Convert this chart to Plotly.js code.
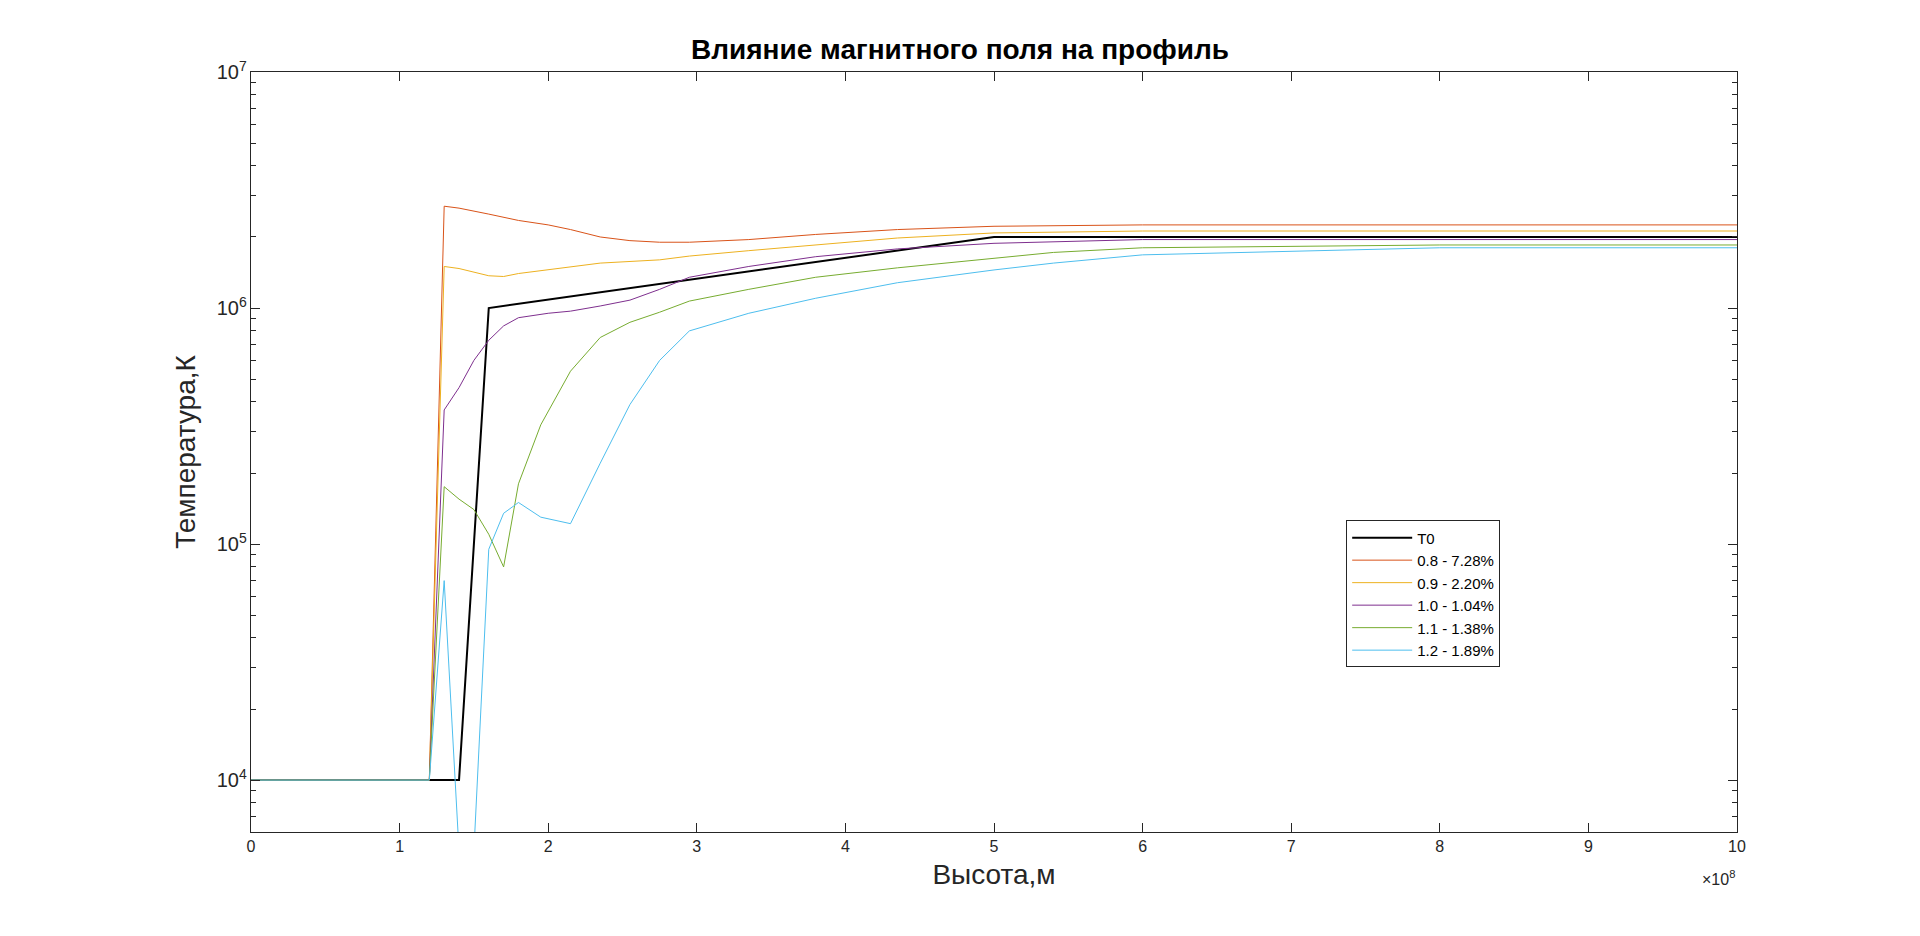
<!DOCTYPE html>
<html><head><meta charset="utf-8">
<script src="https://cdn.plot.ly/plotly-3.0.1.min.js"></script>
<style>body{margin:0;background:#fff}#c{width:1920px;height:936px}</style>
</head><body><div id="c"></div>
<script>
// x in units of 1e8 m
const xT0 = [0, 1.4, 1.6, 5, 10];
const yT0 = [1e4, 1e4, 1e6, 2e6, 2e6];

const x08 = [0, 1.2, 1.3, 1.4, 1.6, 1.8, 2.0, 2.15, 2.35, 2.55, 2.75, 2.95, 3.35, 3.8, 4.35, 5, 6, 8, 10];
const y08 = [1e4, 1e4, 2.7e6, 2.65e6, 2.5e6, 2.35e6, 2.25e6, 2.15e6, 2.0e6, 1.93e6, 1.9e6, 1.9e6, 1.95e6, 2.05e6, 2.15e6, 2.22e6, 2.25e6, 2.25e6, 2.25e6];

const x09 = [0, 1.2, 1.3, 1.4, 1.6, 1.7, 1.8, 2.0, 2.35, 2.75, 2.95, 3.35, 3.8, 4.35, 5, 6, 8, 10];
const y09 = [1e4, 1e4, 1.5e6, 1.47e6, 1.37e6, 1.36e6, 1.4e6, 1.45e6, 1.55e6, 1.6e6, 1.66e6, 1.75e6, 1.85e6, 1.98e6, 2.08e6, 2.12e6, 2.12e6, 2.12e6];

const x10 = [0, 1.2, 1.3, 1.4, 1.5, 1.6, 1.7, 1.8, 2.0, 2.15, 2.35, 2.55, 2.75, 2.95, 3.35, 3.8, 4.35, 5, 6, 8, 10];
const y10 = [1e4, 1e4, 3.7e5, 4.6e5, 6e5, 7.3e5, 8.4e5, 9.1e5, 9.5e5, 9.7e5, 1.02e6, 1.08e6, 1.2e6, 1.35e6, 1.5e6, 1.65e6, 1.78e6, 1.88e6, 1.95e6, 1.95e6, 1.95e6];

const x11 = [0, 1.2, 1.3, 1.4, 1.5, 1.6, 1.7, 1.8, 1.95, 2.15, 2.35, 2.55, 2.75, 2.95, 3.35, 3.8, 4.35, 5, 5.4, 6, 8, 10];
const y11 = [1e4, 1e4, 1.75e5, 1.55e5, 1.4e5, 1.1e5, 8e4, 1.8e5, 3.2e5, 5.4e5, 7.5e5, 8.7e5, 9.6e5, 1.07e6, 1.2e6, 1.35e6, 1.48e6, 1.62e6, 1.72e6, 1.8e6, 1.85e6, 1.85e6];

const x12 = [0, 1.2, 1.3, 1.4, 1.5, 1.6, 1.7, 1.8, 1.95, 2.15, 2.35, 2.55, 2.75, 2.95, 3.35, 3.8, 4.35, 5, 5.4, 6, 8, 10];
const y12 = [1e4, 1e4, 7e4, 5e3, 5e3, 9.5e4, 1.35e5, 1.5e5, 1.3e5, 1.22e5, 2.2e5, 3.9e5, 6e5, 8e5, 9.5e5, 1.1e6, 1.28e6, 1.45e6, 1.55e6, 1.68e6, 1.8e6, 1.8e6];

const names = ['T0', '0.8 - 7.28%', '0.9 - 2.20%', '1.0 - 1.04%', '1.1 - 1.38%', '1.2 - 1.89%'];
const xTicks = [0,1,2,3,4,5,6,7,8,9,10];

const colors = ['#000000', '#D95319', '#EDB120', '#7E2F8E', '#77AC30', '#4DBEEE'];
const widths = [2, 1, 1, 1, 1, 1];
const xs = [xT0, x08, x09, x10, x11, x12];
const ys = [yT0, y08, y09, y10, y11, y12];
const s = 1e8;

const data = xs.map((x, i) => ({
  x: x.map(v => v * s), y: ys[i], name: names[i], type: 'scatter', mode: 'lines',
  line: {color: colors[i], width: widths[i]}
}));

const font = 'Liberation Sans, Arial, sans-serif';
const layout = {
  width: 1920, height: 936,
  margin: {l: 251, r: 183, t: 72, b: 104},
  paper_bgcolor: '#fff', plot_bgcolor: '#fff',
  font: {family: font, color: '#262626'},
  title: {text: '<b>Влияние магнитного поля на профиль</b>', font: {size: 28, color: '#000', family: font}, x: 0.5, xanchor: 'center', y: 0.947, yanchor: 'middle'},
  xaxis: {
    range: [0, 10 * s], tickvals: xTicks.map(v => v * s), ticktext: xTicks.map(String),
    ticks: 'inside', ticklen: 9, tickcolor: '#262626', showline: true, linecolor: '#262626', linewidth: 1,
    mirror: 'ticks', showgrid: false, zeroline: false, tickfont: {size: 16},
    title: {text: 'Высота,м', font: {size: 28, color: '#262626'}, standoff: 10}
  },
  yaxis: {
    type: 'log', range: [3.78, 7], dtick: 1, exponentformat: 'power',
    ticks: 'inside', ticklen: 9, tickcolor: '#262626', showline: true, linecolor: '#262626', linewidth: 1,
    mirror: 'ticks', showgrid: false, zeroline: false, tickfont: {size: 16},
    minor: {ticks: 'inside', ticklen: 5, tickcolor: '#262626', showgrid: false},
    title: {text: 'Температура,К', font: {size: 28, color: '#262626'}, standoff: 12}
  },
  showlegend: true,
  legend: {x: 0.737, y: 0.41, xanchor: 'left', yanchor: 'top', bgcolor: '#fff', bordercolor: '#262626', borderwidth: 1,
    font: {size: 15, color: '#000'}, itemwidth: 60, entrywidth: 230, tracegroupgap: 0},
  annotations: [{text: '×10<sup>8</sup>', xref: 'paper', yref: 'paper', x: 1, y: 0, xanchor: 'right', yanchor: 'top', yshift: -34, showarrow: false, font: {size: 16, color: '#262626'}}]
};
Plotly.newPlot('c', data, layout, {displayModeBar: false});
</script></body></html>
